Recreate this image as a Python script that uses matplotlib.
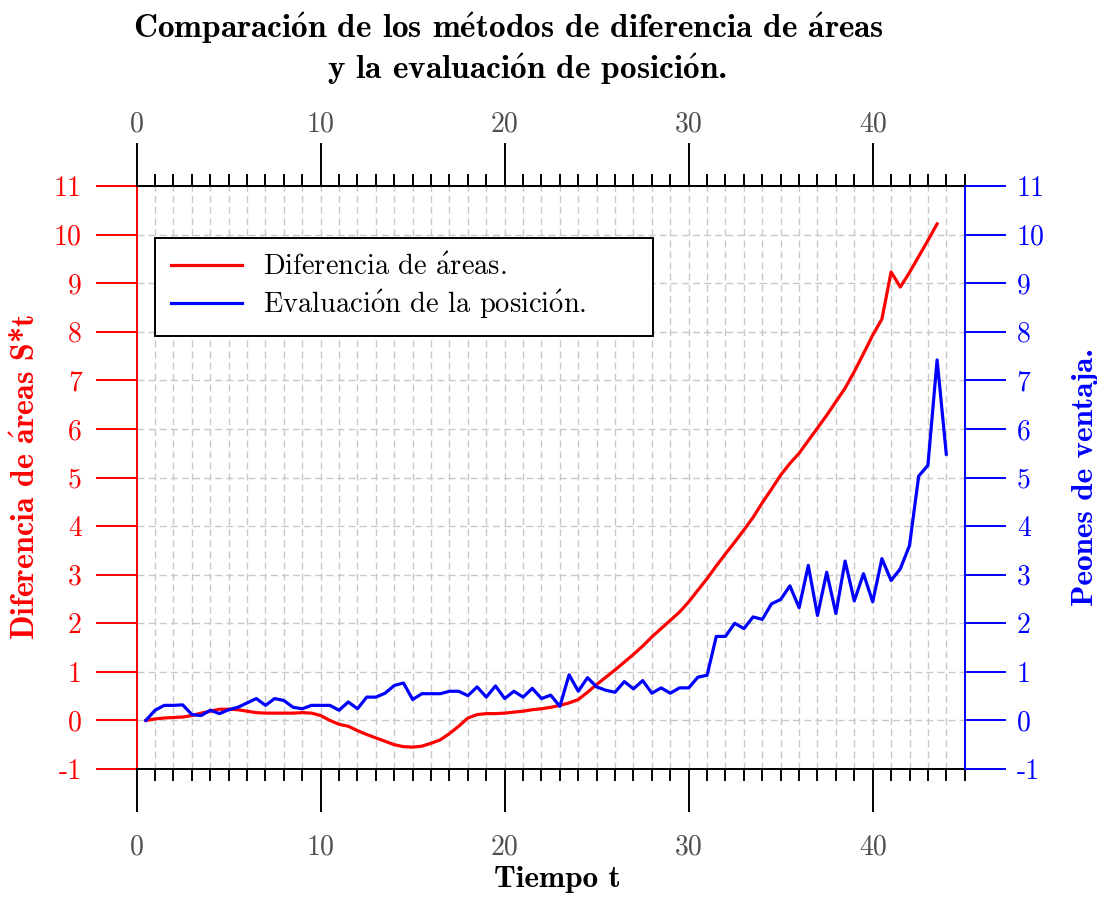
import numpy as np
import matplotlib
matplotlib.use('Agg')
import matplotlib.pyplot as plt
from matplotlib.ticker import MultipleLocator

# time samples (every half unit)
tiempo_areas = np.arange(0.5, 43.51, 0.5)
tiempo_eval = np.arange(0.5, 44.01, 0.5)

# Diferencia de areas S*t (left axis)
dif_areas = [0.00, 0.03, 0.05, 0.06, 0.07, 0.10, 0.15, 0.19, 0.23, 0.23,
             0.22, 0.19, 0.16, 0.15, 0.15, 0.15, 0.15, 0.16, 0.15, 0.10,
             0.00, -0.08, -0.12, -0.21, -0.29, -0.36, -0.43, -0.50, -0.54, -0.55,
             -0.53, -0.47, -0.40, -0.27, -0.12, 0.05, 0.12, 0.14, 0.14, 0.15,
             0.17, 0.19, 0.22, 0.24, 0.27, 0.31, 0.36, 0.43, 0.58, 0.74,
             0.89, 1.04, 1.20, 1.36, 1.53, 1.72, 1.89, 2.06, 2.23, 2.44,
             2.68, 2.92, 3.18, 3.43, 3.67, 3.92, 4.18, 4.48, 4.76, 5.05,
             5.29, 5.50, 5.76, 6.02, 6.28, 6.56, 6.84, 7.18, 7.55, 7.93,
             8.26, 9.23, 8.92, 9.22, 9.55, 9.88, 10.22]

# Evaluacion de la posicion, peones de ventaja (right axis)
evaluacion = [0.00, 0.21, 0.31, 0.31, 0.32, 0.12, 0.10, 0.21, 0.14, 0.22,
              0.27, 0.36, 0.45, 0.31, 0.45, 0.41, 0.27, 0.24, 0.31, 0.31,
              0.31, 0.21, 0.38, 0.24, 0.48, 0.48, 0.56, 0.72, 0.77, 0.43,
              0.55, 0.55, 0.55, 0.60, 0.60, 0.51, 0.69, 0.48, 0.71, 0.45,
              0.60, 0.48, 0.66, 0.45, 0.52, 0.29, 0.94, 0.60, 0.88, 0.69,
              0.62, 0.58, 0.80, 0.65, 0.82, 0.56, 0.67, 0.56, 0.67, 0.67,
              0.89, 0.93, 1.73, 1.73, 2.00, 1.89, 2.13, 2.08, 2.40, 2.49,
              2.77, 2.32, 3.19, 2.16, 3.05, 2.20, 3.28, 2.46, 3.02, 2.44,
              3.33, 2.88, 3.12, 3.60, 5.03, 5.25, 7.42, 5.48]

xticks = [0, 10, 20, 30, 40]
yticks = list(range(-1, 12))
ytick_labels = [str(v) for v in yticks]

plt.rcParams['font.family'] = ['cmr10', 'DejaVu Serif']
plt.rcParams['mathtext.fontset'] = 'cm'
plt.rcParams['axes.unicode_minus'] = False
bold = ['cmb10', 'DejaVu Serif']

# accented letters go through mathtext so they stay in Computer Modern
titulo1 = r'Comparaci$\acute{\mathbf{o}}$n de los m$\acute{\mathbf{e}}$todos de diferencia de $\acute{\mathbf{a}}$reas'
titulo2 = r'y la evaluaci$\acute{\mathbf{o}}$n de posici$\acute{\mathbf{o}}$n.'
etiqueta_izq = r'Diferencia de $\acute{\mathbf{a}}$reas S*t'
etiqueta_der = 'Peones de ventaja.'
leyenda_areas = r'Diferencia de $\acute{\mathrm{a}}$reas.'
leyenda_eval = r'Evaluaci$\acute{\mathrm{o}}$n de la posici$\acute{\mathrm{o}}$n.'

fig = plt.figure(figsize=(10.97, 8.99), dpi=100)
ax = fig.add_axes([0.1246, 0.1446, 0.7548, 0.6485])
ax2 = ax.twinx()

ax.plot(tiempo_areas, dif_areas, color='red', lw=2.3, label=leyenda_areas)
ax2.plot(tiempo_eval, evaluacion, color='blue', lw=2.3, label=leyenda_eval)

for a in (ax, ax2):
    a.set_xlim(0, 45)
    a.set_ylim(-1, 11)
    a.set_yticks(yticks)
    a.set_yticklabels(ytick_labels)

ax.set_xticks(xticks)
ax.xaxis.set_minor_locator(MultipleLocator(1))
ax.set_axisbelow(True)
ax.grid(which='both', axis='x', color='#c8c8c8', ls=(0, (5, 3)), lw=1)
ax.grid(which='major', axis='y', color='#c8c8c8', ls=(0, (5, 3)), lw=1)

# top axis with its own padding
top = ax.secondary_xaxis('top')
top.set_xticks(xticks)
top.xaxis.set_minor_locator(MultipleLocator(1))
top.spines['top'].set_linewidth(1.4)
top.tick_params(axis='x', which='major', direction='out', length=31, width=1.4,
                color='black', labelcolor='#4d4d4d', labelsize=20, pad=4)
top.tick_params(axis='x', which='minor', direction='out', length=8.5, width=1.4)

# spines
ax.spines['left'].set_color('red')
ax.spines['right'].set_visible(False)
for s in ('left', 'top', 'bottom'):
    ax2.spines[s].set_visible(False)
ax2.spines['right'].set_color('blue')
for s in ax.spines.values():
    s.set_linewidth(1.4)
ax2.spines['right'].set_linewidth(1.4)

ax.tick_params(axis='x', which='major', direction='out', length=31, width=1.4,
               color='black', labelcolor='#4d4d4d', labelsize=20, pad=16)
ax.tick_params(axis='x', which='minor', direction='out', length=8.5, width=1.4)
ax.tick_params(axis='y', length=29.5, width=1.4, color='red', labelcolor='red', labelsize=20, pad=10)
ax2.tick_params(axis='y', length=29.5, width=1.4, color='blue', labelcolor='blue', labelsize=20, pad=8)

ax.set_ylabel(etiqueta_izq, color='red', family=bold, fontsize=23)
ax.yaxis.set_label_coords(-0.117, 0.5)
ax2.set_ylabel(etiqueta_der, color='blue', family=bold, fontsize=22.5)
ax2.yaxis.set_label_coords(1.129, 0.5)
ax.set_xlabel('Tiempo t', family=bold, fontsize=22.5)
ax.xaxis.set_label_coords(0.508, -0.166)

fig.text(508 / 1097, 1 - 38 / 899, titulo1, ha='center', va='baseline', family=bold, fontsize=24)
fig.text(527 / 1097, 1 - 79 / 899, titulo2, ha='center', va='baseline', family=bold, fontsize=24)

h1, l1 = ax.get_legend_handles_labels()
h2, l2 = ax2.get_legend_handles_labels()
leg = ax2.legend(h1 + h2, l1 + l2, loc='upper left', bbox_to_anchor=(0.022, 0.3, 0.6014, 0.611),
                 mode='expand', borderaxespad=0, fancybox=False, framealpha=1, edgecolor='black',
                 fontsize=20.5, handlelength=2.5, handletextpad=0.75, labelspacing=0.25,
                 borderpad=0.55)
leg.get_frame().set_linewidth(1.4)

fig.savefig('out.png', dpi=100)
